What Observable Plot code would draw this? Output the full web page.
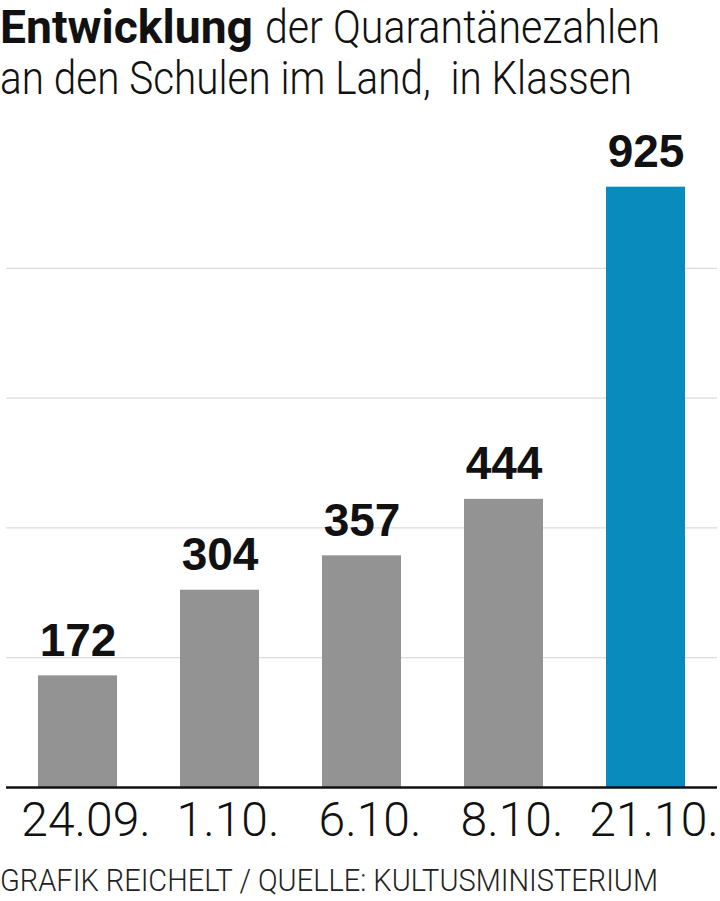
<!DOCTYPE html>
<html>
<head>
<meta charset="utf-8">
<script src="https://cdn.jsdelivr.net/npm/d3@7"></script>
<script src="https://cdn.jsdelivr.net/npm/@observablehq/plot@0.6"></script>
<style>
  body { margin: 0; background: #fff; width: 720px; overflow: hidden; }
  .line { white-space: nowrap; }
  .fit { display: inline-block; white-space: nowrap; }
  .fit > span { display: inline-block; transform-origin: 0 50%; }
  .title { font-family: Roboto, "Liberation Sans", sans-serif; font-size: 47px; line-height: 51px; color: #111; margin: 1px 0 0 0; font-weight: 300; }
  .title b { font-weight: 700; }
  .footer { font-family: Roboto, "Liberation Sans", sans-serif; font-weight: 300; font-size: 31px; line-height: 30px; height: 30px; color: #222; margin-top: 18px; }
  svg { display: block; }
</style>
</head>
<body>
<div class="title">
  <div class="line"><span class="fit" style="width:265px"><span data-w="253"><b>Entwicklung</b></span></span><span class="fit"><span data-w="395">der Quarantänezahlen</span></span></div>
  <div class="line"><span class="fit"><span data-w="632">an den Schulen im Land,&nbsp; in Klassen</span></span></div>
</div>
<div id="chart"></div>
<div class="footer line"><span class="fit"><span data-w="658">GRAFIK REICHELT / QUELLE: KULTUSMINISTERIUM</span></span></div>
<script>
const dates = ["24.09.", "1.10.", "6.10.", "8.10.", "21.10."];
const values = [172, 304, 357, 444, 925];
const highlighted = ["21.10."];
const gridTicks = [200, 400, 600, 800];

const data = dates.map((d, i) => ({date: d, value: values[i]}));

const chart = Plot.plot({
  width: 720,
  height: 745,
  marginLeft: 6,
  marginRight: 3,
  marginTop: 35,
  marginBottom: 61,
  style: {fontFamily: "Roboto, 'Liberation Sans', sans-serif", background: "#fff", color: "#111"},
  x: {domain: dates, paddingInner: 0.445, paddingOuter: 0.22, label: null},
  y: {domain: [0, 1000], axis: null},
  marks: [
    Plot.ruleY(gridTicks, {stroke: "#dcdcdc", strokeWidth: 1.3}),
    Plot.barY(data.filter(d => !highlighted.includes(d.date)), {x: "date", y: "value", fill: "#939393"}),
    Plot.barY(data.filter(d => highlighted.includes(d.date)), {x: "date", y: "value", fill: "#0a8bbd"}),
    Plot.ruleY([0], {stroke: "#111", strokeWidth: 2.5}),
    Plot.text(data, {x: "date", y: "value", text: d => String(d.value), dy: -20, lineAnchor: "bottom",
      fontSize: 46, fontWeight: "bold", fontFamily: "'Liberation Sans', sans-serif", fill: "#111"}),
    Plot.axisX({tickSize: 0, tickPadding: 14, fontSize: 48, fontWeight: 300, dx: 8, label: null, fill: "#111"})
  ]
});
document.getElementById("chart").appendChild(chart);

function fitLines() {
  document.querySelectorAll(".fit > span[data-w]").forEach(el => {
    el.style.transform = "none";
    const w = el.getBoundingClientRect().width;
    const target = +el.dataset.w;
    if (w > 0) el.style.transform = `scaleX(${target / w})`;
  });
}
fitLines();
if (document.fonts && document.fonts.ready) document.fonts.ready.then(fitLines);
</script>
</body>
</html>
